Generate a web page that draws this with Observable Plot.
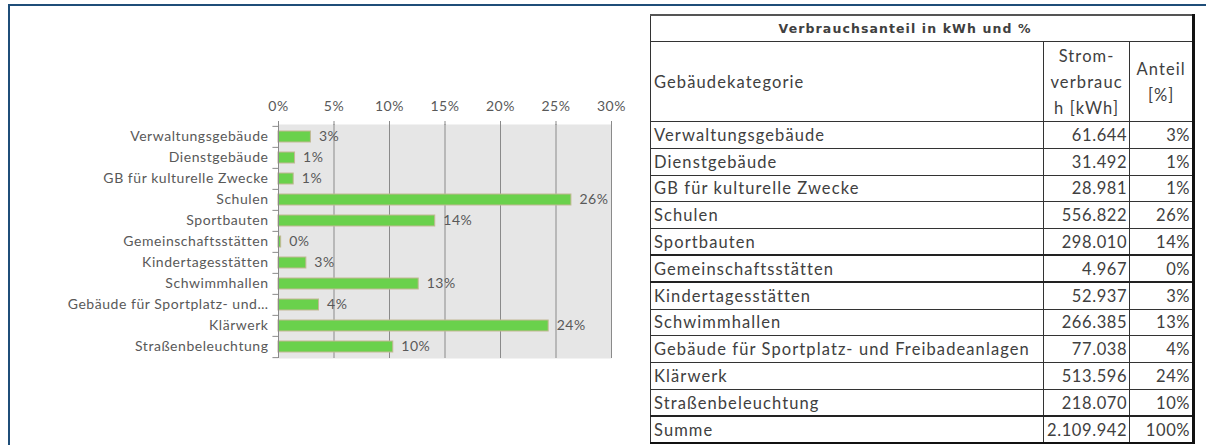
<!DOCTYPE html>
<html><head><meta charset="utf-8">
<script src="https://cdn.jsdelivr.net/npm/d3@7"></script>
<script src="https://cdn.jsdelivr.net/npm/@observablehq/plot@0.6"></script>
<style>
html,body{margin:0;padding:0;background:#fff;}
#wrap{position:relative;width:1206px;height:445px;overflow:hidden;font-family:Lato,sans-serif;}
#frameTop{position:absolute;left:8px;top:4px;width:1198px;height:0;border-top:2px solid #1f4e79;}
#frameLeft{position:absolute;left:8px;top:4px;width:0;height:441px;border-left:2px solid #1f4e79;}
#chart{position:absolute;left:0;top:0;}
#tbl{position:absolute;left:650px;top:14px;border-collapse:collapse;table-layout:fixed;color:#404040;font-size:16.5px;letter-spacing:1.1px;font-family:Lato,sans-serif;}
#tbl td{border:1px solid #333;padding:0 3px;box-sizing:border-box;white-space:nowrap;overflow:hidden;}
#tbl td.title{font-weight:bold;font-family:"DejaVu Sans",sans-serif;font-size:12.5px;letter-spacing:1.1px;text-align:center;padding-right:36px;border-top:2px solid #555;}
#tbl td.num{text-align:right;letter-spacing:0.6px;padding-right:2px;}
#tbl td.hc{text-align:center;line-height:26px;}
#tbl tr.thick td{border-top:2px solid #222;}
#tbl td.last{border-right:3px solid #111;}
#tbl tr.sum td{border-bottom:2px solid #111;}
</style></head>
<body>
<div id="wrap">
  <div id="frameTop"></div>
  <div id="frameLeft"></div>
  <div id="chart"></div>
  <table id="tbl"></table>
</div>
<script>
const categories = ["Verwaltungsgebäude","Dienstgebäude","GB für kulturelle Zwecke","Schulen","Sportbauten","Gemeinschaftsstätten","Kindertagesstätten","Schwimmhallen","Gebäude für Sportplatz- und Freibadeanlagen","Klärwerk","Straßenbeleuchtung"];
const kwh = [61644, 31492, 28981, 556822, 298010, 4967, 52937, 266385, 77038, 513596, 218070];
const sharePct = [2.92, 1.49, 1.37, 26.39, 14.12, 0.24, 2.51, 12.63, 3.65, 24.34, 10.34];
const xTicks = [0, 5, 10, 15, 20, 25, 30];
const totalKwh = 2109942;
const totalPct = 100;
const tableTitle = "Verbrauchsanteil in kWh und %";
const headCategory = "Gebäudekategorie";
const headKwh = ["Strom-", "verbrauc", "h [kWh]"];
const headPct = ["Anteil", "[%]"];
const sumLabel = "Summe";

const W = 640, H = 445, mT = 124, mB = 87, mL = 278, mR = 29;
const step = (H - mT - mB) / categories.length;
const data = categories.map((c, i) => ({cat: c, pct: sharePct[i]}));
const shortLabel = s => s.length > 28 ? s.slice(0, 27) + "…" : s;
const txt = "#595959", grid = "#8a8a8a";

const chart = Plot.plot({
  width: W, height: H,
  marginTop: mT, marginBottom: mB, marginLeft: mL, marginRight: mR,
  style: {fontFamily: "Lato, sans-serif", fontSize: "14px", letterSpacing: "0.55px", color: txt, background: "transparent"},
  x: {domain: [0, 30], label: null},
  y: {domain: categories, padding: 0, label: null},
  marks: [
    Plot.frame({fill: "#e6e6e6", stroke: null}),
    Plot.gridX(xTicks, {stroke: grid, strokeOpacity: 1}),
    Plot.axisX(xTicks, {anchor: "top", label: null, tickSize: 4, tickPadding: 10, tickFormat: d => d + "%", stroke: grid, fill: txt}),
    Plot.barX(data, {x: "pct", y: "cat", fill: "#6ad14c", stroke: "#c2b894", strokeWidth: 1, insetTop: 5, insetBottom: 5}),
    Plot.ruleX([0], {stroke: grid}),
    Plot.ruleY(categories, {x1: -0.5, x2: 0, dy: -step / 2, stroke: grid}),
    Plot.ruleY([categories[categories.length - 1]], {x1: -0.5, x2: 0, dy: step / 2, stroke: grid}),
    Plot.axisY({label: null, tickSize: 0, tickPadding: 10, tickFormat: shortLabel, fill: txt}),
    Plot.text(data, {x: "pct", y: "cat", text: d => Math.round(d.pct) + "%", dx: 8, textAnchor: "start", fill: txt})
  ]
});
document.getElementById("chart").append(chart);

// table
const fmt = n => d3.format(",")(n).replace(/,/g, ".");
const tbl = document.getElementById("tbl");
const colW = [393, 84, 64];
const cg = document.createElement("colgroup");
colW.forEach(w => { const c = document.createElement("col"); c.style.width = w + "px"; cg.append(c); });
tbl.append(cg);
function row(cells, cls, h) {
  const tr = document.createElement("tr");
  if (cls) tr.className = cls;
  tr.style.height = h + "px";
  cells.forEach(([html, c, span]) => {
    const td = document.createElement("td");
    td.innerHTML = html;
    if (c) td.className = c;
    if (span) td.colSpan = span;
    tr.append(td);
  });
  tbl.append(tr);
}
row([[tableTitle, "title last", 3]], "", 26.5);
row([[headCategory, ""], [headKwh.join("<br>"), "hc"], [headPct.join("<br>"), "hc last"]], "", 80);
const thickBefore = new Set([5, 6]);
categories.forEach((c, i) => {
  row([[c, ""], [fmt(kwh[i]), "num"], [Math.round(sharePct[i]) + "%", "num last"]], thickBefore.has(i) ? "thick" : "", 26.8);
});
row([[sumLabel, ""], [fmt(totalKwh), "num"], [totalPct + "%", "num last"]], "sum thick", 26.8);
</script>
</body></html>
